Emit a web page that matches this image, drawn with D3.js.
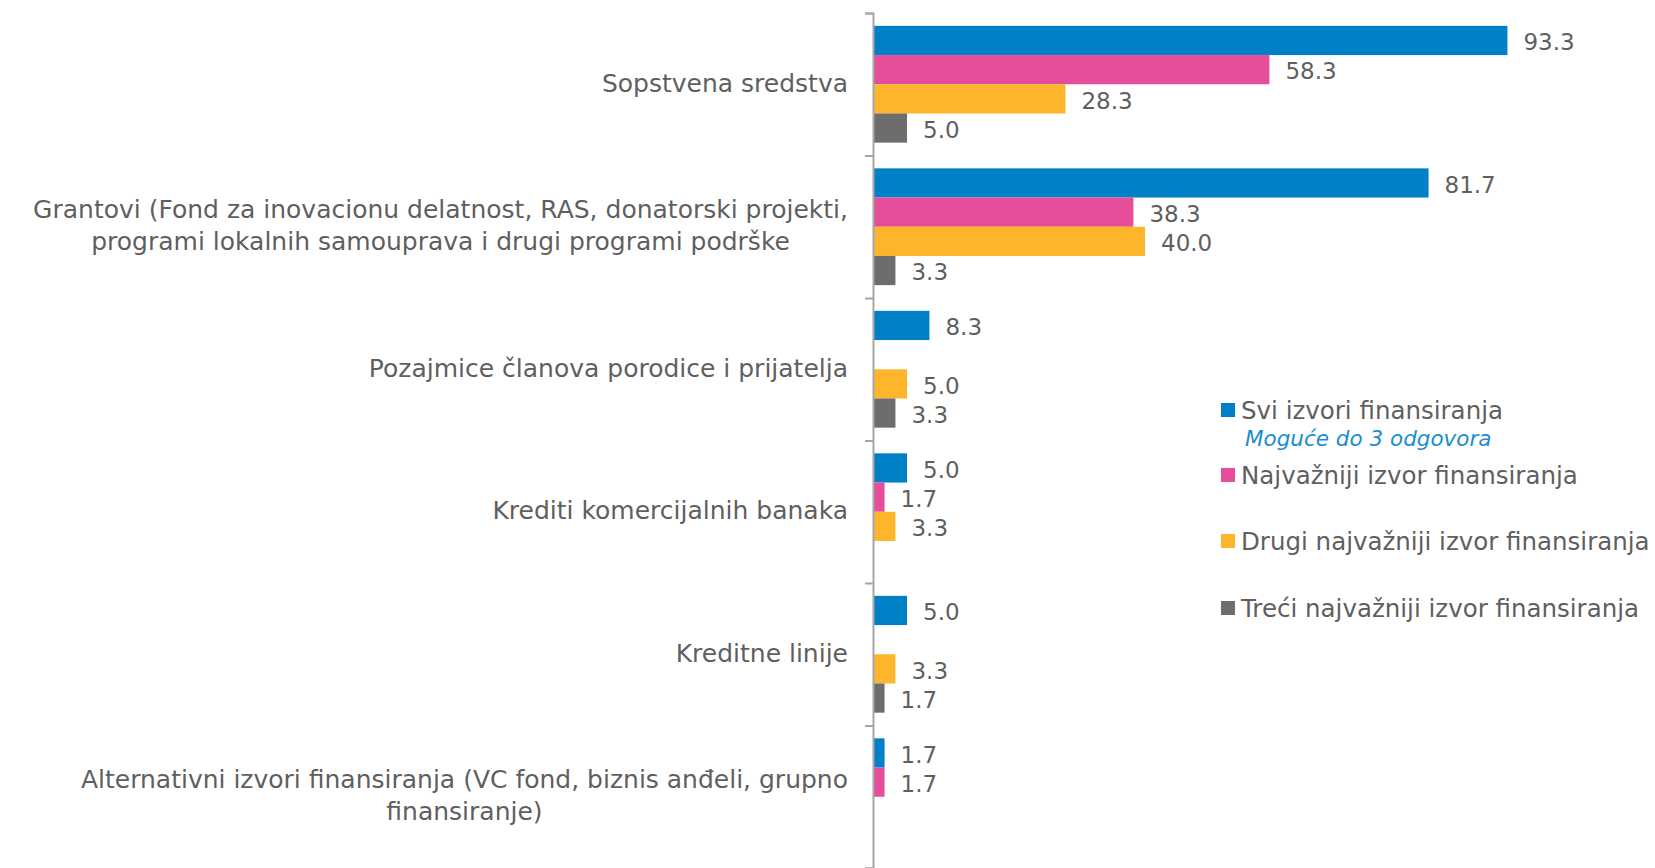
<!DOCTYPE html>
<html>
<head>
<meta charset="utf-8">
<script src="https://cdn.jsdelivr.net/npm/d3@7"></script>
<style>
  body { margin: 0; background: #fff; }
  svg text { font-family: "Century Gothic", "URW Gothic", "DejaVu Sans", sans-serif; }
</style>
</head>
<body>
<div id="chart"></div>
<script>
// Data
var categories = [
  ["Sopstvena sredstva"],
  ["Grantovi (Fond za inovacionu delatnost, RAS, donatorski projekti,", "programi lokalnih samouprava i drugi programi podrške"],
  ["Pozajmice članova porodice i prijatelja"],
  ["Krediti komercijalnih banaka"],
  ["Kreditne linije"],
  ["Alternativni izvori finansiranja (VC fond, biznis anđeli, grupno", "finansiranje)"]
];
var seriesNames = [
  "Svi izvori finansiranja",
  "Najvažniji izvor finansiranja",
  "Drugi najvažniji izvor finansiranja",
  "Treći najvažniji izvor finansiranja"
];
var sviIzvori   = [93.3, 81.7, 8.3, 5.0, 5.0, 1.7];
var najvazniji  = [58.3, 38.3, null, 1.7, null, 1.7];
var drugi       = [28.3, 40.0, 5.0, 3.3, 3.3, null];
var treci       = [5.0, 3.3, 3.3, null, 1.7, null];
var legendNote = "Moguće do 3 odgovora";

var colors = ["#0081c7", "#e64d9b", "#fdb62c", "#6d6e6c"];
var textColor = "#5f5f5f";

var width = 1655,
    height = 868;

var svg = d3.select("#chart").append("svg")
    .attr("width", width)
    .attr("height", height);

var allSeries = [sviIzvori, najvazniji, drugi, treci];

var y0 = d3.scaleBand()
    .domain(d3.range(categories.length))
    .range([13, 868])
    .paddingInner(0);

var y1 = d3.scaleBand()
    .domain(d3.range(seriesNames.length))
    .range([0, y0.bandwidth()])
    .paddingInner(0)
    .paddingOuter(0.44);

var x = d3.scaleLinear()
    .domain([0, 100])
    .range([873, 1553]);

// bars + labels
var groups = svg.selectAll("g.cat")
    .data(categories)
  .enter().append("g")
    .attr("class", "cat")
    .attr("transform", function(d, i) { return "translate(0," + y0(i) + ")"; });

groups.each(function(d, ci) {
  var g = d3.select(this);
  allSeries.forEach(function(s, si) {
    var v = s[ci];
    if (v == null) return;
    g.append("rect")
      .attr("x", x(0))
      .attr("y", y1(si))
      .attr("width", x(v) - x(0))
      .attr("height", y1.bandwidth())
      .attr("fill", colors[si]);
    g.append("text")
      .attr("x", x(v) + 16)
      .attr("y", y1(si) + y1.bandwidth() / 2)
      .attr("dy", "0.42em")
      .attr("font-size", 23)
      .attr("fill", textColor)
      .text(v.toFixed(1));
  });

  // category label - block right aligned, lines centred inside it
  var lines = d;
  var lh = 32;
  var t = g.append("text")
    .attr("text-anchor", "middle")
    .attr("font-size", 25)
    .attr("fill", textColor);
  var spans = lines.map(function(line, li) {
    return t.append("tspan")
      .attr("y", y0.bandwidth() / 2 + (li - (lines.length - 1) / 2) * lh)
      .attr("dy", "0.3em")
      .text(line);
  });
  var maxW = d3.max(spans, function(s) { return s.node().getComputedTextLength(); });
  spans.forEach(function(s) { s.attr("x", 848 - maxW / 2); });
});

// axis
var yAxis = d3.axisLeft(d3.scaleLinear().range([13, 868]).domain([0, categories.length]))
    .ticks(categories.length)
    .tickSize(8)
    .tickFormat("");

var ax = svg.append("g")
    .attr("transform", "translate(" + x(0) + ",0)")
    .call(yAxis);
ax.select(".domain").attr("stroke", "#a6a6a6").attr("stroke-width", 2);
ax.selectAll(".tick line").attr("stroke", "#a6a6a6").attr("stroke-width", 2);

// legend
var legendY = [410, 475, 541, 608];
var legend = svg.append("g").attr("class", "legend");
seriesNames.forEach(function(name, i) {
  legend.append("rect")
    .attr("x", 1221)
    .attr("y", legendY[i] - 7)
    .attr("width", 14)
    .attr("height", 14)
    .attr("fill", colors[i]);
  legend.append("text")
    .attr("x", 1241)
    .attr("y", legendY[i])
    .attr("dy", "0.36em")
    .attr("font-size", 24.5)
    .attr("fill", textColor)
    .text(name);
});
legend.append("text")
  .attr("x", 1245)
  .attr("y", 438)
  .attr("dy", "0.36em")
  .attr("font-size", 21.5)
  .attr("font-style", "italic")
  .attr("fill", "#1b8ed0")
  .text(legendNote);
</script>
</body>
</html>
